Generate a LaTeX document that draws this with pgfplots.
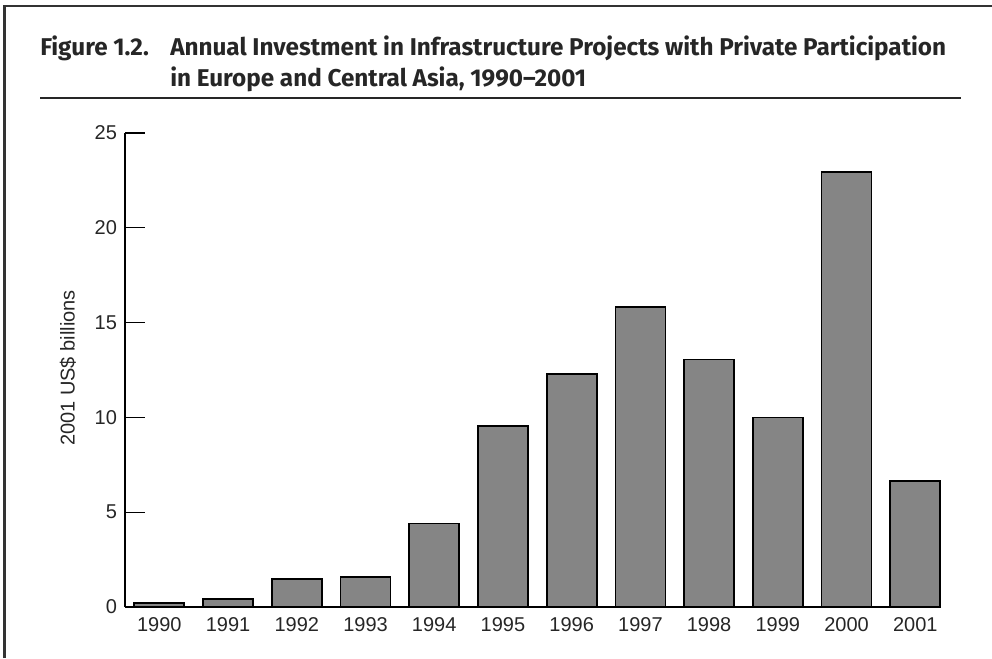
\documentclass[border=0pt]{standalone}
\usepackage{pgfplots}
\pgfplotsset{compat=1.18}
\usepackage{fontspec}
\setmainfont{Liberation Sans}
\newfontfamily\titlefont{Fira Sans}
\definecolor{bargray}{HTML}{858585}
\begin{document}
\begin{tikzpicture}
\useasboundingbox (0,0) rectangle (744pt,-493.5pt);
\begin{scope}[x=0.75pt,y=-0.75pt]
\draw[line width=1.6pt, color=black!80] (4.5,658) -- (4.5,6) -- (992,6);
\draw[line width=0.9pt, color=black!85] (40,98) -- (961,98);
\node[anchor=base west, inner sep=0, font=\titlefont\bfseries\fontsize{18.2}{22}\selectfont, text=black!85] at (40,55) {Figure 1.2.};
\node[anchor=base west, inner sep=0, font=\titlefont\bfseries\fontsize{18.2}{22}\selectfont, text=black!85] at (170,55) {Annual Investment in Infrastructure Projects with Private Participation};
\node[anchor=base west, inner sep=0, font=\titlefont\bfseries\fontsize{18.2}{22}\selectfont, text=black!85] at (170,86) {in Europe and Central Asia, 1990\textendash 2001};
\node[rotate=90, inner sep=0, font=\fontsize{15}{18}\selectfont, text=black!85] at (68,368) {2001 US\$ billions};
\end{scope}
\begin{axis}[
  at={(93.75pt,-455.25pt)}, anchor=south west,
  scale only axis, width=611.25pt, height=355.5pt,
  xmin=-0.5, xmax=11.36, ymin=0, ymax=25,
  axis x line=bottom, axis y line=left,
  x axis line style={-, line width=1.8pt},
  y axis line style={-, line width=0.9pt},
  xtick={0,...,11},
  xticklabels={1990,1991,1992,1993,1994,1995,1996,1997,1998,1999,2000,2001},
  x tick style={draw=none},
  ytick={0,5,10,15,20,25},
  y tick style={line width=1pt, black},
  tick align=inside,
  major tick length=15pt,
  tick label style={font=\fontsize{15}{18}\selectfont, text=black!85},
  xticklabel style={yshift=-4pt},
  yticklabel style={xshift=-2.5pt},
  /pgf/number format/assume math mode=true,
  clip=false,
]
\addplot[ybar, bar width=37.5pt, bar shift=0pt, fill=bargray, draw=black, line width=1.3pt]
coordinates {(0,0.2) (1,0.42) (2,1.48) (3,1.6) (4,4.4) (5,9.53) (6,12.3) (7,15.84) (8,13.05) (9,10.0) (10,22.95) (11,6.63)};
\end{axis}
\end{tikzpicture}
\end{document}
